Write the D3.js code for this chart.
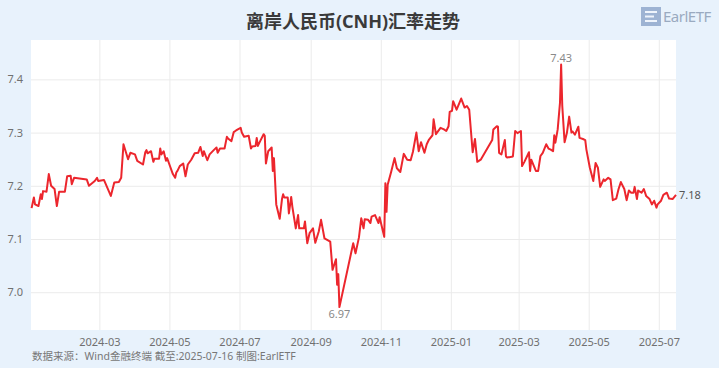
<!DOCTYPE html>
<html><head><meta charset="utf-8">
<script src="https://cdn.jsdelivr.net/npm/d3@7"></script>
<style>
html,body{margin:0;padding:0;background:#e8f2fc;}
svg{display:block;}
text{font-family:"Noto Sans","Noto Sans CJK SC",sans-serif;}
</style></head>
<body><svg id="c" width="719" height="368"></svg>
<script>
const title = "离岸人民币(CNH)汇率走势";
const footer = "数据来源：Wind金融终端 截至:2025-07-16 制图:EarlETF";
const xTickLabels = ["2024-03","2024-05","2024-07","2024-09","2024-11","2025-01","2025-03","2025-05","2025-07"];
const yTickValues = [7.0, 7.1, 7.2, 7.3, 7.4];
const dates = [
"2024-01-02","2024-01-04","2024-01-05","2024-01-08","2024-01-10","2024-01-11","2024-01-12","2024-01-15","2024-01-17","2024-01-19",
"2024-01-22","2024-01-24","2024-01-26","2024-01-31","2024-02-02","2024-02-05","2024-02-06","2024-02-08","2024-02-19","2024-02-21",
"2024-02-26","2024-02-28","2024-02-29","2024-03-05","2024-03-08","2024-03-11","2024-03-14","2024-03-18","2024-03-20","2024-03-22",
"2024-03-26","2024-03-28","2024-04-01","2024-04-03","2024-04-08","2024-04-10","2024-04-11","2024-04-12","2024-04-15","2024-04-17",
"2024-04-18","2024-04-22","2024-04-23","2024-04-24","2024-04-26","2024-04-28","2024-04-29","2024-05-01","2024-05-04","2024-05-06",
"2024-05-07","2024-05-08","2024-05-10","2024-05-13","2024-05-15","2024-05-17","2024-05-20","2024-05-23","2024-05-26","2024-05-28",
"2024-05-30","2024-05-31","2024-06-03","2024-06-05","2024-06-09","2024-06-11","2024-06-12","2024-06-14","2024-06-18","2024-06-20",
"2024-06-21","2024-06-24","2024-06-26","2024-06-28","2024-07-02","2024-07-03","2024-07-05","2024-07-09","2024-07-11","2024-07-12",
"2024-07-15","2024-07-16","2024-07-17","2024-07-19","2024-07-22","2024-07-23","2024-07-24","2024-07-26","2024-07-29","2024-07-30",
"2024-07-31","2024-08-02","2024-08-05","2024-08-07","2024-08-08","2024-08-09","2024-08-12","2024-08-13","2024-08-15","2024-08-16",
"2024-08-19","2024-08-21","2024-08-22","2024-08-26","2024-08-27","2024-08-29","2024-08-31","2024-09-03","2024-09-05","2024-09-08",
"2024-09-10","2024-09-13","2024-09-18","2024-09-20","2024-09-23","2024-09-24","2024-09-25","2024-09-26","2024-10-08","2024-10-10",
"2024-10-13","2024-10-15","2024-10-17","2024-10-18","2024-10-21","2024-10-23","2024-10-24","2024-10-27","2024-10-30","2024-10-31",
"2024-11-04","2024-11-05","2024-11-06","2024-11-07","2024-11-10","2024-11-13","2024-11-15","2024-11-18","2024-11-21","2024-11-24",
"2024-11-27","2024-11-29","2024-12-02","2024-12-04","2024-12-06","2024-12-09","2024-12-11","2024-12-13","2024-12-16","2024-12-17",
"2024-12-19","2024-12-23","2024-12-26","2024-12-28","2024-12-30","2024-12-31","2025-01-02","2025-01-03","2025-01-06","2025-01-10",
"2025-01-13","2025-01-15","2025-01-17","2025-01-20","2025-01-22","2025-01-24","2025-01-27","2025-02-06","2025-02-07","2025-02-10",
"2025-02-11","2025-02-12","2025-02-14","2025-02-17","2025-02-18","2025-02-19","2025-02-24","2025-02-26","2025-02-28","2025-03-03",
"2025-03-04","2025-03-06","2025-03-10","2025-03-11","2025-03-12","2025-03-16","2025-03-18","2025-03-20","2025-03-22","2025-03-25",
"2025-03-27","2025-03-29","2025-03-31","2025-04-01","2025-04-02","2025-04-04","2025-04-06","2025-04-07","2025-04-08","2025-04-10",
"2025-04-12","2025-04-14","2025-04-16","2025-04-17","2025-04-19","2025-04-22","2025-04-23","2025-04-26","2025-04-28","2025-04-29",
"2025-05-02","2025-05-05","2025-05-07","2025-05-09","2025-05-11","2025-05-14","2025-05-15","2025-05-18","2025-05-20","2025-05-22",
"2025-05-25","2025-05-27","2025-05-29","2025-06-01","2025-06-03","2025-06-05","2025-06-07","2025-06-09","2025-06-10","2025-06-12",
"2025-06-13","2025-06-16","2025-06-18","2025-06-20","2025-06-23","2025-06-25","2025-06-27","2025-06-29","2025-06-30","2025-07-03",
"2025-07-05","2025-07-08","2025-07-10","2025-07-13","2025-07-16"];
const values = [
7.158,7.178,7.165,7.162,7.184,7.175,7.190,7.189,7.222,7.200,
7.194,7.162,7.189,7.189,7.218,7.219,7.203,7.215,7.212,7.200,
7.209,7.215,7.209,7.211,7.196,7.181,7.206,7.207,7.215,7.278,
7.250,7.262,7.259,7.247,7.240,7.263,7.267,7.261,7.265,7.245,
7.251,7.251,7.270,7.259,7.265,7.247,7.252,7.240,7.222,7.215,
7.225,7.228,7.237,7.242,7.218,7.240,7.249,7.261,7.262,7.273,
7.256,7.265,7.248,7.259,7.268,7.272,7.262,7.270,7.270,7.292,
7.289,7.284,7.301,7.304,7.309,7.300,7.292,7.294,7.270,7.274,
7.275,7.290,7.275,7.284,7.297,7.294,7.242,7.265,7.272,7.228,
7.252,7.165,7.138,7.175,7.184,7.178,7.178,7.148,7.179,7.161,
7.120,7.145,7.120,7.120,7.133,7.092,7.111,7.120,7.093,7.114,
7.136,7.101,7.095,7.042,7.062,7.014,7.034,6.972,7.092,7.073,
7.103,7.139,7.120,7.137,7.136,7.130,7.142,7.145,7.130,7.141,
7.104,7.205,7.151,7.202,7.226,7.252,7.233,7.226,7.260,7.249,
7.248,7.264,7.300,7.265,7.282,7.262,7.278,7.287,7.295,7.325,
7.297,7.309,7.306,7.303,7.312,7.339,7.341,7.359,7.343,7.364,
7.347,7.350,7.343,7.263,7.288,7.245,7.249,7.286,7.306,7.312,
7.311,7.262,7.259,7.286,7.255,7.253,7.255,7.303,7.299,7.303,
7.237,7.245,7.263,7.228,7.249,7.228,7.228,7.256,7.262,7.278,
7.270,7.268,7.265,7.295,7.281,7.306,7.356,7.428,7.350,7.282,
7.299,7.330,7.300,7.302,7.296,7.311,7.290,7.288,7.286,7.268,
7.234,7.209,7.243,7.234,7.198,7.212,7.209,7.215,7.212,7.173,
7.176,7.194,7.207,7.194,7.173,7.191,7.187,7.187,7.198,7.175,
7.191,7.187,7.194,7.181,7.175,7.165,7.172,7.159,7.165,7.172,
7.183,7.187,7.176,7.175,7.183];

const parse = d3.timeParse("%Y-%m-%d");
const data = dates.map((d,i)=>({date:parse(d), value:values[i]}));

const svg = d3.select("#c");
const W = 719, H = 368;
const L = 31, R = 676, T = 40, B = 330;

svg.append("rect").attr("width",W).attr("height",H).attr("fill","#e8f2fc");
svg.append("rect").attr("x",L).attr("y",T).attr("width",R-L).attr("height",B-T).attr("fill","#ffffff");

const x = d3.scaleTime().domain([new Date(2024,0,1,12), new Date(2025,6,16)]).range([L,R]);
const y = d3.scaleLinear().domain([6.929, 7.474]).range([B,T]);

// grid + axes
const xTicks = xTickLabels.map(s=>d3.timeParse("%Y-%m")(s));
const gx = svg.append("g").attr("transform",`translate(0,${B})`)
  .call(d3.axisBottom(x).tickValues(xTicks).tickFormat(d3.timeFormat("%Y-%m")).tickSize(-(B-T)).tickPadding(8));
gx.select(".domain").remove();
gx.selectAll("line").attr("stroke","#ebebeb");
gx.selectAll("text").attr("fill","#707070").attr("font-size","11px");

const gy = svg.append("g").attr("transform",`translate(${L},0)`)
  .call(d3.axisLeft(y).tickValues(yTickValues).tickFormat(d3.format(".1f")).tickSize(-(R-L)).tickPadding(8));
gy.select(".domain").remove();
gy.selectAll("line").attr("stroke","#ebebeb");
gy.selectAll("text").attr("fill","#707070").attr("font-size","11px");

// line
const line = d3.line().x(d=>x(d.date)).y(d=>y(d.value));
svg.append("path").datum(data).attr("d",line).attr("fill","none")
  .attr("stroke","#ec262d").attr("stroke-width",2).attr("stroke-linejoin","round");

// annotations
const maxP = data.reduce((a,b)=>b.value>a.value?b:a);
const minP = data.reduce((a,b)=>b.value<a.value?b:a);
const lastP = data[data.length-1];
svg.append("text").attr("x",x(maxP.date)).attr("y",y(maxP.value)-2).attr("text-anchor","middle")
  .attr("fill","#8a8a8a").attr("font-size","11px").text(d3.format(".2f")(maxP.value));
svg.append("text").attr("x",x(minP.date)).attr("y",y(minP.value)+11).attr("text-anchor","middle")
  .attr("fill","#8a8a8a").attr("font-size","11px").text(d3.format(".2f")(minP.value));
svg.append("text").attr("x",R+3).attr("y",y(lastP.value)+4).attr("text-anchor","start")
  .attr("fill","#555").attr("font-size","11px").text(d3.format(".2f")(lastP.value));

// title
svg.append("text").attr("x",353).attr("y",28).attr("text-anchor","middle")
  .attr("font-family","'Noto Sans CJK SC',sans-serif").attr("font-weight","bold")
  .attr("font-size","18px").attr("fill","#3a3a3a").text(title);

// footer
svg.append("text").attr("x",32).attr("y",360).attr("fill","#777").attr("font-size","10.5px")
  .attr("font-family","'Noto Sans CJK SC',sans-serif").text(footer);

// logo
const lg = svg.append("g").attr("transform","translate(641,7)");
lg.append("rect").attr("x",0).attr("y",0).attr("width",20).attr("height",19).attr("fill","#9db3d3");
lg.append("path").attr("d","M4,5 H16 M4,9.5 H13 M4,14 H16").attr("stroke","#eef4fc").attr("stroke-width",2.2).attr("fill","none");
lg.append("text").attr("x",22).attr("y",15).attr("fill","#9aaac0").attr("font-size","15px")
  .attr("font-family","'DejaVu Sans',sans-serif").attr("letter-spacing","-0.5").text("EarlETF");
</script></body></html>
